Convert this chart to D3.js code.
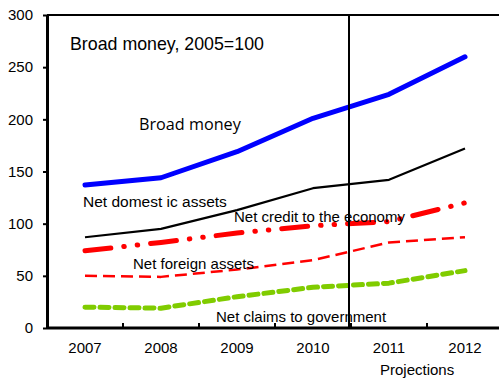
<!DOCTYPE html>
<html><head><meta charset="utf-8">
<script src="https://d3js.org/d3.v7.min.js"></script>
<style>body{margin:0;background:#fff}svg{display:block}</style>
</head><body>
<script>
const years = ["2007","2008","2009","2010","2011","2012"];
const yTicks = [0,50,100,150,200,250,300];
const broadMoney = [137,144,169,201,224,260];
const netDomesticAssets = [87,95,113,134,142,172];
const netCreditEconomy = [74,82,91,98,102,120];
const netForeignAssets = [50,49,56,65,82,87];
const netClaimsGov = [20,19,30,39,43,55];

const W=499,H=378;
const svg=d3.select("body").append("svg").attr("width",W).attr("height",H);
const x=d3.scaleBand().domain(years).range([47,503]);
const y=d3.scaleLinear().domain([0,300]).range([328,15]);
const cx=d=>x(d)+x.bandwidth()/2;
const font="Liberation Sans, Arial, sans-serif";

// top border
svg.append("line").attr("x1",47).attr("x2",W).attr("y1",y(300)).attr("y2",y(300)).attr("stroke","#000").attr("stroke-width",2);

const line=d3.line().x((d,i)=>cx(years[i])).y(d=>y(d));
function series(data,color,w,dash,cap){
  svg.append("path").datum(data).attr("d",line).attr("fill","none")
    .attr("stroke",color).attr("stroke-width",w)
    .attr("stroke-dasharray",dash||null).attr("stroke-linecap",cap||"butt").attr("stroke-linejoin","round");
}
series(netClaimsGov,"#80cc00",5,"9 6","round");
series(netForeignAssets,"#ff0000",2.5,"12 6");
series(netCreditEconomy,"#ff0000",5,"26 13 0.5 13 0.5 13","round");
series(netDomesticAssets,"#000",2.2);
series(broadMoney,"#0000ff",5,null,"round");

// projection line
svg.append("line").attr("x1",349).attr("x2",349).attr("y1",y(300)).attr("y2",y(0)).attr("stroke","#000").attr("stroke-width",2);

// y axis
const ya=svg.append("g").attr("transform","translate(47,0)")
  .call(d3.axisLeft(y).tickValues(yTicks).tickSize(4).tickPadding(10).tickSizeOuter(0));
ya.select(".domain").attr("stroke-width",3);
ya.selectAll(".tick line").attr("stroke-width",2);
ya.selectAll("text").attr("font-family",font).attr("font-size",15).attr("fill","#000");

// x axis
const xa=svg.append("g").attr("transform","translate(0,328)");
xa.append("line").attr("x1",47).attr("x2",W).attr("stroke","#000").attr("stroke-width",3);
xa.selectAll(".tk").data(years.slice(1)).join("line")
  .attr("x1",d=>x(d)).attr("x2",d=>x(d)).attr("y1",0).attr("y2",-5).attr("stroke","#000").attr("stroke-width",2);
xa.selectAll("text").data(years).join("text").attr("x",d=>cx(d)).attr("y",25)
  .attr("text-anchor","middle").attr("font-family",font).attr("font-size",15).text(d=>d);

function label(t,xx,yy,size,f){
  svg.append("text").attr("x",xx).attr("y",yy).attr("font-family",f||font).attr("font-size",size).attr("fill","#000").text(t);
}
label("Broad money, 2005=100",70,50,17.8);
label("Broad money",139,130,16.2,"Open Sans, sans-serif");
label("Net domest ic assets",83,207,15.5);
label("Net credit to the economy",234,222,15);
label("Net foreign assets",133,269,15);
label("Net claims to government",216,322,15);
label("Projections",380,375,15);
</script>
</body></html>
